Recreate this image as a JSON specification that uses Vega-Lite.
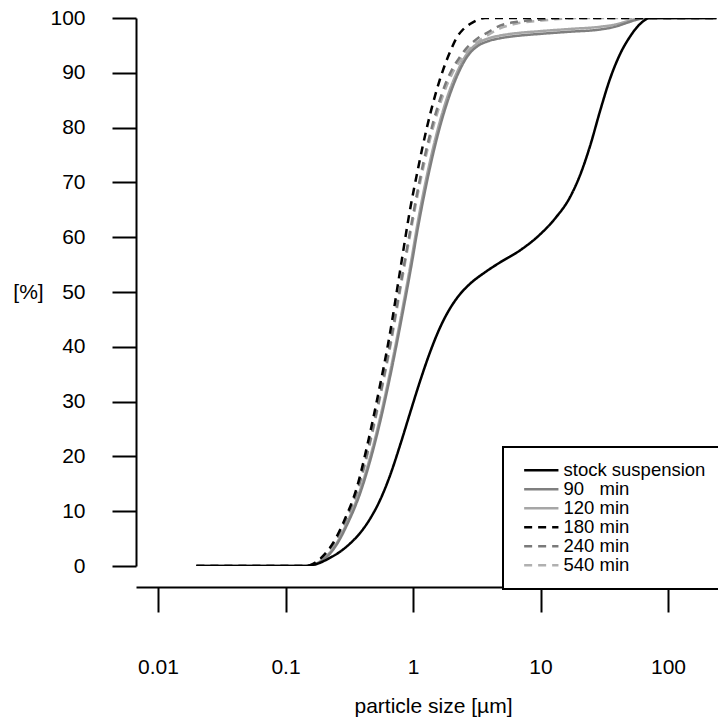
{
  "$schema": "https://vega.github.io/schema/vega-lite/v6.json",
  "width": 582,
  "height": 548,
  "autosize": {"type": "none"},
  "padding": {"left": 136, "top": 18, "right": 0, "bottom": 156},
  "background": "white",
  "config": {
    "font": "Liberation Sans",
    "view": {"stroke": null},
    "axis": {
      "grid": false,
      "domainColor": "black",
      "tickColor": "black",
      "labelColor": "black",
      "titleColor": "black",
      "domainWidth": 2,
      "tickWidth": 2,
      "labelFontSize": 21,
      "titleFontSize": 21,
      "titleFontWeight": "normal"
    },
    "legend": {
      "orient": "none",
      "legendX": 367,
      "legendY": 429,
      "fillColor": "white",
      "strokeColor": "black",
      "strokeWidth": 2,
      "padding": 14,
      "rowPadding": 0,
      "labelFontSize": 18.5,
      "labelColor": "black",
      "labelLimit": 400,
      "labelOffset": 28,
      "symbolType": "M-0.3,0H4.6",
      "symbolSize": 196,
      "symbolStrokeWidth": 2.5,
      "symbolFillColor": "transparent"
    }
  },
  "datasets": {
    "curves": [
      {"s": "540 min", "x": 0.02, "y": 0}, {"s": "540 min", "x": 0.1448, "y": 0}, {"s": "540 min", "x": 0.1735, "y": 0.5}, {"s": "540 min", "x": 0.2078, "y": 2.0}, {"s": "540 min", "x": 0.2489, "y": 4.4}, {"s": "540 min", "x": 0.2982, "y": 8.0}, {"s": "540 min", "x": 0.3703, "y": 13.9}, {"s": "540 min", "x": 0.4437, "y": 20.8}, {"s": "540 min", "x": 0.5314, "y": 29.0}, {"s": "540 min", "x": 0.6722, "y": 40.8}, {"s": "540 min", "x": 0.8051, "y": 51.2}, {"s": "540 min", "x": 0.9645, "y": 61.3}, {"s": "540 min", "x": 1.1146, "y": 69.0}, {"s": "540 min", "x": 1.3112, "y": 76.4}, {"s": "540 min", "x": 1.515, "y": 81.9}, {"s": "540 min", "x": 1.7508, "y": 86.4}, {"s": "540 min", "x": 2.0224, "y": 89.8}, {"s": "540 min", "x": 2.337, "y": 92.2}, {"s": "540 min", "x": 2.6513, "y": 93.9}, {"s": "540 min", "x": 2.9549, "y": 95.0}, {"s": "540 min", "x": 3.3541, "y": 96.0}, {"s": "540 min", "x": 3.806, "y": 96.8}, {"s": "540 min", "x": 4.813, "y": 98.1}, {"s": "540 min", "x": 6.542, "y": 99.0}, {"s": "540 min", "x": 9.91, "y": 99.5}, {"s": "540 min", "x": 20.41, "y": 100}, {"s": "540 min", "x": 240, "y": 100},
      {"s": "240 min", "x": 0.02, "y": 0}, {"s": "240 min", "x": 0.1448, "y": 0}, {"s": "240 min", "x": 0.1735, "y": 0.6}, {"s": "240 min", "x": 0.2078, "y": 2.1}, {"s": "240 min", "x": 0.2489, "y": 4.6}, {"s": "240 min", "x": 0.2982, "y": 8.3}, {"s": "240 min", "x": 0.3703, "y": 14.2}, {"s": "240 min", "x": 0.4437, "y": 21.2}, {"s": "240 min", "x": 0.5314, "y": 29.4}, {"s": "240 min", "x": 0.6722, "y": 41.3}, {"s": "240 min", "x": 0.8051, "y": 51.8}, {"s": "240 min", "x": 0.9645, "y": 62.0}, {"s": "240 min", "x": 1.1146, "y": 69.8}, {"s": "240 min", "x": 1.3112, "y": 77.3}, {"s": "240 min", "x": 1.515, "y": 82.8}, {"s": "240 min", "x": 1.7508, "y": 87.3}, {"s": "240 min", "x": 2.0224, "y": 90.6}, {"s": "240 min", "x": 2.337, "y": 92.9}, {"s": "240 min", "x": 2.6513, "y": 94.6}, {"s": "240 min", "x": 2.9549, "y": 95.6}, {"s": "240 min", "x": 3.3541, "y": 96.6}, {"s": "240 min", "x": 3.806, "y": 97.3}, {"s": "240 min", "x": 4.813, "y": 98.6}, {"s": "240 min", "x": 6.542, "y": 99.3}, {"s": "240 min", "x": 9.91, "y": 99.7}, {"s": "240 min", "x": 14.22, "y": 100}, {"s": "240 min", "x": 240, "y": 100},
      {"s": "120 min", "x": 0.02, "y": 0}, {"s": "120 min", "x": 0.1474, "y": 0}, {"s": "120 min", "x": 0.1767, "y": 0.5}, {"s": "120 min", "x": 0.2116, "y": 1.9}, {"s": "120 min", "x": 0.2534, "y": 4.3}, {"s": "120 min", "x": 0.3037, "y": 7.9}, {"s": "120 min", "x": 0.384, "y": 13.8}, {"s": "120 min", "x": 0.46, "y": 19.8}, {"s": "120 min", "x": 0.5511, "y": 27.0}, {"s": "120 min", "x": 0.6966, "y": 38.0}, {"s": "120 min", "x": 0.8347, "y": 47.5}, {"s": "120 min", "x": 0.9645, "y": 55.5}, {"s": "120 min", "x": 1.0945, "y": 63.0}, {"s": "120 min", "x": 1.2647, "y": 70.5}, {"s": "120 min", "x": 1.4613, "y": 77.0}, {"s": "120 min", "x": 1.6886, "y": 82.5}, {"s": "120 min", "x": 1.951, "y": 87.0}, {"s": "120 min", "x": 2.2538, "y": 90.5}, {"s": "120 min", "x": 2.6513, "y": 93.5}, {"s": "120 min", "x": 3.177, "y": 95.3}, {"s": "120 min", "x": 3.806, "y": 96.2}, {"s": "120 min", "x": 4.813, "y": 96.8}, {"s": "120 min", "x": 6.31, "y": 97.2}, {"s": "120 min", "x": 9.91, "y": 97.6}, {"s": "120 min", "x": 17.03, "y": 98.0}, {"s": "120 min", "x": 29.29, "y": 98.4}, {"s": "120 min", "x": 38.39, "y": 98.8}, {"s": "120 min", "x": 45.99, "y": 99.3}, {"s": "120 min", "x": 55.1, "y": 99.8}, {"s": "120 min", "x": 66.03, "y": 100}, {"s": "120 min", "x": 240, "y": 100},
      {"s": "90\u00a0\u00a0\u00a0min", "x": 0.02, "y": 0}, {"s": "90\u00a0\u00a0\u00a0min", "x": 0.1474, "y": 0}, {"s": "90\u00a0\u00a0\u00a0min", "x": 0.1767, "y": 0.4}, {"s": "90\u00a0\u00a0\u00a0min", "x": 0.2116, "y": 1.7}, {"s": "90\u00a0\u00a0\u00a0min", "x": 0.2534, "y": 4.0}, {"s": "90\u00a0\u00a0\u00a0min", "x": 0.3037, "y": 7.5}, {"s": "90\u00a0\u00a0\u00a0min", "x": 0.384, "y": 13.2}, {"s": "90\u00a0\u00a0\u00a0min", "x": 0.46, "y": 19.1}, {"s": "90\u00a0\u00a0\u00a0min", "x": 0.5511, "y": 26.2}, {"s": "90\u00a0\u00a0\u00a0min", "x": 0.6966, "y": 37.1}, {"s": "90\u00a0\u00a0\u00a0min", "x": 0.8347, "y": 46.5}, {"s": "90\u00a0\u00a0\u00a0min", "x": 0.9645, "y": 54.4}, {"s": "90\u00a0\u00a0\u00a0min", "x": 1.0945, "y": 61.8}, {"s": "90\u00a0\u00a0\u00a0min", "x": 1.2647, "y": 69.3}, {"s": "90\u00a0\u00a0\u00a0min", "x": 1.4613, "y": 75.9}, {"s": "90\u00a0\u00a0\u00a0min", "x": 1.6886, "y": 81.5}, {"s": "90\u00a0\u00a0\u00a0min", "x": 1.951, "y": 86.1}, {"s": "90\u00a0\u00a0\u00a0min", "x": 2.2538, "y": 89.8}, {"s": "90\u00a0\u00a0\u00a0min", "x": 2.6513, "y": 92.9}, {"s": "90\u00a0\u00a0\u00a0min", "x": 3.177, "y": 94.8}, {"s": "90\u00a0\u00a0\u00a0min", "x": 3.806, "y": 95.7}, {"s": "90\u00a0\u00a0\u00a0min", "x": 4.813, "y": 96.3}, {"s": "90\u00a0\u00a0\u00a0min", "x": 6.31, "y": 96.7}, {"s": "90\u00a0\u00a0\u00a0min", "x": 9.91, "y": 97.1}, {"s": "90\u00a0\u00a0\u00a0min", "x": 17.03, "y": 97.5}, {"s": "90\u00a0\u00a0\u00a0min", "x": 29.29, "y": 97.9}, {"s": "90\u00a0\u00a0\u00a0min", "x": 38.39, "y": 98.4}, {"s": "90\u00a0\u00a0\u00a0min", "x": 45.99, "y": 99.0}, {"s": "90\u00a0\u00a0\u00a0min", "x": 55.1, "y": 99.6}, {"s": "90\u00a0\u00a0\u00a0min", "x": 66.03, "y": 100}, {"s": "90\u00a0\u00a0\u00a0min", "x": 240, "y": 100},
      {"s": "180 min", "x": 0.02, "y": 0}, {"s": "180 min", "x": 0.1422, "y": 0}, {"s": "180 min", "x": 0.1703, "y": 0.6}, {"s": "180 min", "x": 0.2041, "y": 2.2}, {"s": "180 min", "x": 0.2445, "y": 4.8}, {"s": "180 min", "x": 0.2929, "y": 8.6}, {"s": "180 min", "x": 0.3637, "y": 14.4}, {"s": "180 min", "x": 0.4357, "y": 21.8}, {"s": "180 min", "x": 0.522, "y": 30.3}, {"s": "180 min", "x": 0.66, "y": 42.5}, {"s": "180 min", "x": 0.7907, "y": 53.8}, {"s": "180 min", "x": 0.9473, "y": 65.0}, {"s": "180 min", "x": 1.0945, "y": 72.5}, {"s": "180 min", "x": 1.2876, "y": 80.1}, {"s": "180 min", "x": 1.4878, "y": 85.8}, {"s": "180 min", "x": 1.7194, "y": 90.5}, {"s": "180 min", "x": 1.951, "y": 93.8}, {"s": "180 min", "x": 2.2136, "y": 96.5}, {"s": "180 min", "x": 2.4663, "y": 97.9}, {"s": "180 min", "x": 2.8, "y": 98.9}, {"s": "180 min", "x": 3.177, "y": 99.6}, {"s": "180 min", "x": 3.671, "y": 100}, {"s": "180 min", "x": 240, "y": 100},
      {"s": "stock suspension", "x": 0.02, "y": 0}, {"s": "stock suspension", "x": 0.1422, "y": 0}, {"s": "stock suspension", "x": 0.1556, "y": 0.1}, {"s": "stock suspension", "x": 0.1866, "y": 0.6}, {"s": "stock suspension", "x": 0.2234, "y": 1.5}, {"s": "stock suspension", "x": 0.2676, "y": 2.6}, {"s": "stock suspension", "x": 0.3206, "y": 4.1}, {"s": "stock suspension", "x": 0.3839, "y": 6.0}, {"s": "stock suspension", "x": 0.46, "y": 8.6}, {"s": "stock suspension", "x": 0.5508, "y": 12.0}, {"s": "stock suspension", "x": 0.66, "y": 16.5}, {"s": "stock suspension", "x": 0.7907, "y": 22.0}, {"s": "stock suspension", "x": 0.9473, "y": 27.9}, {"s": "stock suspension", "x": 1.1347, "y": 33.7}, {"s": "stock suspension", "x": 1.3594, "y": 39.0}, {"s": "stock suspension", "x": 1.628, "y": 43.5}, {"s": "stock suspension", "x": 1.951, "y": 47.0}, {"s": "stock suspension", "x": 2.337, "y": 49.6}, {"s": "stock suspension", "x": 2.8, "y": 51.5}, {"s": "stock suspension", "x": 3.671, "y": 53.6}, {"s": "stock suspension", "x": 4.813, "y": 55.4}, {"s": "stock suspension", "x": 6.908, "y": 57.6}, {"s": "stock suspension", "x": 9.91, "y": 60.5}, {"s": "stock suspension", "x": 12.99, "y": 63.4}, {"s": "stock suspension", "x": 17.03, "y": 67.3}, {"s": "stock suspension", "x": 20.41, "y": 71.3}, {"s": "stock suspension", "x": 24.44, "y": 76.6}, {"s": "stock suspension", "x": 29.29, "y": 83.0}, {"s": "stock suspension", "x": 35.09, "y": 88.9}, {"s": "stock suspension", "x": 42.03, "y": 93.4}, {"s": "stock suspension", "x": 50.35, "y": 96.6}, {"s": "stock suspension", "x": 60.32, "y": 98.9}, {"s": "stock suspension", "x": 72.27, "y": 100}, {"s": "stock suspension", "x": 240, "y": 100}
    ]
  },
  "data": {"name": "curves"},
  "mark": {"type": "line", "interpolate": "monotone", "strokeWidth": 2.5, "clip": true},
  "encoding": {
    "x": {
      "field": "x",
      "type": "quantitative",
      "scale": {"type": "log", "domain": [0.00672, 246.6], "nice": false},
      "axis": {
        "title": "particle size [µm]",
        "values": [0.01, 0.1, 1, 10, 100],
        "format": "~g",
        "offset": 21,
        "tickSize": 25,
        "labelPadding": 44,
        "labelFlush": false,
        "labelOverlap": false,
        "titleY": 125,
        "titleBaseline": "alphabetic",
        "titleX": 297,
        "titleAlign": "center"
      }
    },
    "y": {
      "field": "y",
      "type": "quantitative",
      "scale": {"domain": [0, 100], "nice": false, "zero": false},
      "axis": {
        "title": "[%]",
        "values": [0, 10, 20, 30, 40, 50, 60, 70, 80, 90, 100],
        "tickSize": 24,
        "labelPadding": 27,
        "labelFlush": false,
        "labelOverlap": false,
        "titleAngle": 0,
        "titleX": -108,
        "titleY": 274,
        "titleAlign": "center",
        "titleBaseline": "middle"
      }
    },
    "color": {
      "field": "s",
      "type": "nominal",
      "scale": {
        "domain": ["stock suspension", "90\u00a0\u00a0\u00a0min", "120 min", "180 min", "240 min", "540 min"],
        "range": ["#000000", "#7f7f7f", "#a6a6a6", "#000000", "#7a7a7a", "#b0b0b0"]
      },
      "legend": {"title": null}
    },
    "strokeDash": {
      "field": "s",
      "type": "nominal",
      "scale": {
        "domain": ["stock suspension", "90\u00a0\u00a0\u00a0min", "120 min", "180 min", "240 min", "540 min"],
        "range": [[1, 0], [1, 0], [1, 0], [8, 6], [8, 6], [8, 6]]
      },
      "legend": {"title": null}
    }
  }
}
